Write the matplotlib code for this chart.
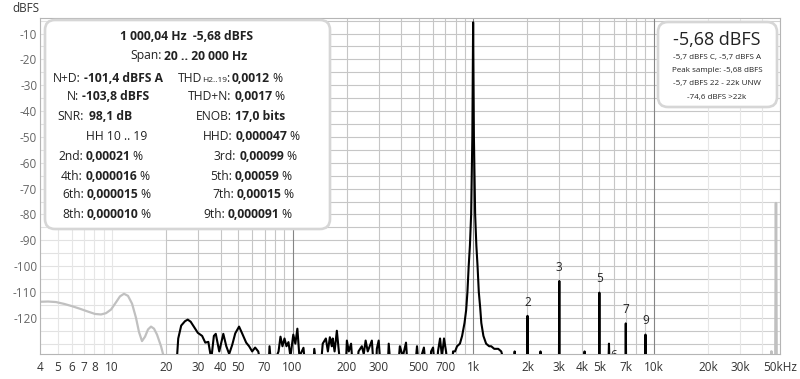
import matplotlib
matplotlib.use("Agg")
import matplotlib.pyplot as plt
from matplotlib.patches import FancyBboxPatch
import numpy as np

plt.rcParams['font.family'] = ['Open Sans', 'DejaVu Sans']

# ---- data ----
fund_f = 1000.04
fund_db = -5.68

# grey part below 20 Hz
low_f = [4.0, 4.43, 4.9, 5.43, 6.02, 6.66, 7.38, 8.06, 8.71, 9.28, 9.89, 10.54, 11.09,
         11.67, 12.28, 12.93, 13.6, 14.13, 14.68, 15.26, 15.85, 16.47, 17.11, 17.78, 18.71, 19.69]
low_db = [-113.8, -113.7, -113.9, -114.6, -115.5, -116.5, -117.6, -118.5, -118.7, -118.2, -116.8, -114.0, -111.7,
          -110.7, -111.5, -114.5, -120.0, -125.5, -129.0, -127.3, -124.5, -123.4, -124.2, -126.5, -131.0, -137.0]

# grey part above 22 kHz
high_f = [44300, 44800, 45300, 47100, 47500, 47900]
high_db = [-140, -133, -140, -140, -75.6, -140]

# black spectrum 20 Hz .. 20 kHz (without harmonics)
spec_f = [22.7, 23.3, 24.2, 25.4, 26.3, 27.3, 28.8, 29.9, 31.6, 32.9, 34.2, 35.5, 36.7, 37.6, 39.3,
          41.4, 43.0, 44.6, 46.4, 48.2, 50.6, 52.6, 55.4, 57.5, 59.8, 62.1, 64.6, 67.9, 73.6, 74.6,
          76.5, 83.7, 85.8, 88.0, 90.3, 92.6, 95.0, 97.4, 101, 103.7, 106.4, 109.2, 115, 118, 130,
          132, 136, 143, 147, 153, 157, 161, 165, 167, 171, 176, 180, 185, 197, 200, 205, 211, 216,
          227, 232, 242, 248, 254, 261, 275, 282, 290, 293, 300, 308, 336, 341, 350, 383, 393, 408,
          425, 435, 476, 489, 501, 515, 521, 534, 548, 580, 585, 600, 615, 630, 639, 656, 672, 690,
          708, 726, 765, 774, 794, 815, 845, 869, 896, 915, 930, 945, 960, 975, 990, 1000, 1010,
          1026, 1042, 1058, 1075, 1094, 1110, 1140, 1180, 1227, 1259, 1309, 1377, 1431, 1526, 1680,
          1698, 1715, 2330, 2360, 2390, 4100, 4140, 4180, 5600, 5650, 5700]
spec_db = [-140, -128, -123, -121.3, -120.7, -121.5, -124, -125.8, -127, -129.6, -129.3, -136, -127, -126.2, -133,
           -126.2, -131, -134, -130.4, -126, -123.4, -126, -129.6, -131, -133, -131.5, -133, -140, -140, -131,
           -140, -133, -127.3, -131, -128, -131, -129.4, -135, -126.5, -130, -124.2, -135, -131.6, -140, -140,
           -132, -140, -140, -130, -128, -133, -127.5, -131, -128, -133, -125, -132, -140, -140, -128.8, -133, -130, -140,
           -140, -133, -131, -134, -128.8, -133, -128.8, -140, -140, -132, -128.8, -140, -140, -130, -140, -140, -131, -135,
           -129.6, -140, -140, -131, -140, -140, -134, -131.5, -140, -140, -133, -131.5, -140, -140, -133, -128, -135, -128,
           -133, -140, -140, -133, -133, -131, -130, -127, -122, -117, -110, -100, -92, -80, -50, fund_db, -50,
           -80, -92, -100, -110, -116, -122, -127, -130, -131, -131, -132, -132, -133, -140, -140,
           -133, -140, -140, -133, -140, -140, -133, -140, -140, -130, -140]

# harmonic distortion in % (2nd .. 9th)
harm_n = [2, 3, 4, 5, 6, 7, 8, 9]
harm_txt = ['0,00021', '0,00099', '0,000016', '0,00059', '0,000015', '0,00015', '0,000010', '0,000091']
harm_shown = [2, 3, 5, 6, 7, 9]

yticks = [-10, -20, -30, -40, -50, -60, -70, -80, -90, -100, -110, -120]
xticks = [4, 5, 6, 7, 8, 10, 20, 30, 40, 50, 70, 100, 200, 300, 500, 700,
          1000, 2000, 3000, 4000, 5000, 7000, 10000, 20000, 30000, 50000]
xlabels = ['4', '5', '6', '7', '8', '10', '20', '30', '40', '50', '70', '100', '200', '300', '500', '700',
           '1k', '2k', '3k', '4k', '5k', '7k', '10k', '20k', '30k', '50kHz']

# ---- figure ----
W, H = 800, 379
fig = plt.figure(figsize=(W / 100, H / 100), dpi=100)
ax = fig.add_axes([40 / W, (H - 354) / H, 740 / W, 336 / H])
ax.set_xscale('log')
ax.set_xlim(4, 50000)
ax.set_ylim(-134, -4)

# grid
for d in [1, 10, 100, 1000, 10000]:
    for m in range(1, 10):
        f = m * d
        if f < 4 or f > 50000:
            continue
        if m == 1 and 100 <= f <= 10000:
            c = '#858585'
        elif 20 <= f < 20000:
            c = '#c6c6c6'
        else:
            c = '#e6e6e6'
        ax.axvline(f, color=c, lw=0.8, zorder=0.5)
hy = np.arange(-130, -4, 5)
ax.hlines(hy, 20, 20000, colors='#c6c6c6', lw=0.8, zorder=0.4)
ax.hlines(hy, 4, 20, colors='#e2e2e2', lw=0.8, zorder=0.4)
ax.hlines(hy, 20000, 50000, colors='#d2d2d2', lw=0.8, zorder=0.4)

# harmonics merged into the black trace
hf, hd = [], []
for n, t in zip(harm_n, harm_txt):
    lvl = fund_db + 20 * np.log10(float(t.replace(',', '.')) / 100)
    f = n * fund_f
    hf += [f * 0.995, f, f * 1.005]
    hd += [-140, lvl, -140]
    if n in harm_shown:
        ax.text(f, max(lvl + 5.3, -134.6), str(n), ha='center', va='center',
                fontsize=8.5, color='#222222', clip_on=True, zorder=4)
allf = np.array(spec_f + hf)
alld = np.array(spec_db + hd)
order = np.argsort(allf)

ax.plot(low_f, low_db, color='#c0c0c0', lw=1.6, zorder=2)
ax.plot(high_f, high_db, color='#c0c0c0', lw=1.8, zorder=2)
ax.plot(allf[order], alld[order], color='black', lw=1.5, zorder=3)

ax.set_xticks(xticks, xlabels)
ax.xaxis.set_minor_formatter(matplotlib.ticker.NullFormatter())
ax.set_yticks(yticks, [str(v) for v in yticks])
ax.tick_params(which='both', length=0)
ax.tick_params(axis='x', pad=5, labelsize=8.5, labelcolor='#333333')
ax.tick_params(axis='y', pad=2, labelsize=8.5, labelcolor='#666666')
for s in ax.spines.values():
    s.set_color('#b5b5b5')
    s.set_linewidth(0.8)

fig.text(12 / W, 1 - 8 / H, 'dBFS', fontsize=8.5, color='#333333', va='center', ha='left')


def ip(x, y):
    return x / 100, (H - y) / 100


tr = fig.dpi_scale_trans
FS = 8.7


def box(x0, y0, x1, y1):
    p = FancyBboxPatch(ip(x0, y1), (x1 - x0) / 100, (y1 - y0) / 100,
                       boxstyle='round,pad=0,rounding_size=0.1', transform=tr,
                       facecolor='white', edgecolor='#d6d6d6', lw=1.9, clip_on=False, zorder=10)
    ax.add_patch(p)


def chain(x, y, parts):
    first = parts[0]
    prev = ax.text(*ip(x, y), first[0], transform=tr, fontsize=FS,
                   fontweight=first[1], va='center', ha='left', color='#222222', zorder=11)
    for p in parts[1:]:
        s, w = p[0], p[1]
        sz = p[2] if len(p) > 2 else FS
        gap = p[3] if len(p) > 3 else 2.0
        prev = ax.annotate(s, xy=(1, 0), xycoords=prev, xytext=(gap, 0), textcoords='offset points',
                           va='bottom', ha='left', fontsize=sz, fontweight=w, color='#222222',
                           zorder=11, annotation_clip=False)
    return prev


box(45, 20, 330, 229)
ax.text(*ip(187, 36), '1 000,04 Hz  -5,68 dBFS', transform=tr, fontsize=FS, fontweight='bold',
        ha='center', va='center', color='#222222', zorder=11)
chain(130, 56, [('Span:', 'normal'), ('20 .. 20 000 Hz', 'bold')])
chain(53, 78, [('N+D:', 'normal'), ('-101,4 dBFS A', 'bold')])
chain(178, 78, [('THD', 'normal'), ('H2..19', 'normal', 6.0, -0.5), (':', 'normal', FS, -0.5),
                ('0,0012', 'bold'), ('%', 'normal', FS, 1.7)])
chain(67, 97, [('N:', 'normal'), ('-103,8 dBFS', 'bold')])
chain(188, 97, [('THD+N:', 'normal'), ('0,0017', 'bold'), ('%', 'normal', FS, 1.7)])
chain(57, 117, [('SNR:', 'normal'), ('98,1 dB', 'bold', FS, 4.0)])
chain(196, 117, [('ENOB:', 'normal'), ('17,0 bits', 'bold')])
chain(86, 137, [('HH 10 .. 19', 'normal')])
chain(203, 137, [('HHD:', 'normal'), ('0,000047', 'bold'), ('%', 'normal', FS, 1.7)])
rows_y = [156, 176, 195, 215]
left_x = [58, 61, 62, 62]
right_x = [214, 210, 212, 203]
names = ['2nd', '3rd', '4th', '5th', '6th', '7th', '8th', '9th']
for i in range(4):
    chain(left_x[i], rows_y[i], [(names[2 * i] + ':', 'normal'), (harm_txt[2 * i], 'bold'),
                                 ('%', 'normal', FS, 1.7)])
    chain(right_x[i], rows_y[i], [(names[2 * i + 1] + ':', 'normal'), (harm_txt[2 * i + 1], 'bold'),
                                  ('%', 'normal', FS, 1.7)])

box(658, 22, 777, 107)
ax.text(*ip(717, 40), '-5,68 dBFS', transform=tr, fontsize=13, ha='center', va='center',
        color='#222222', zorder=11)
small = ['-5,7 dBFS C, -5,7 dBFS A', 'Peak sample: -5,68 dBFS', '-5,7 dBFS 22 - 22k UNW', '-74,6 dBFS >22k']
for s, yy in zip(small, [58, 71, 84, 97]):
    ax.text(*ip(717, yy), s, transform=tr, fontsize=5.8, ha='center', va='center',
            color='#222222', zorder=11)

fig.savefig('out.png', dpi=100)
